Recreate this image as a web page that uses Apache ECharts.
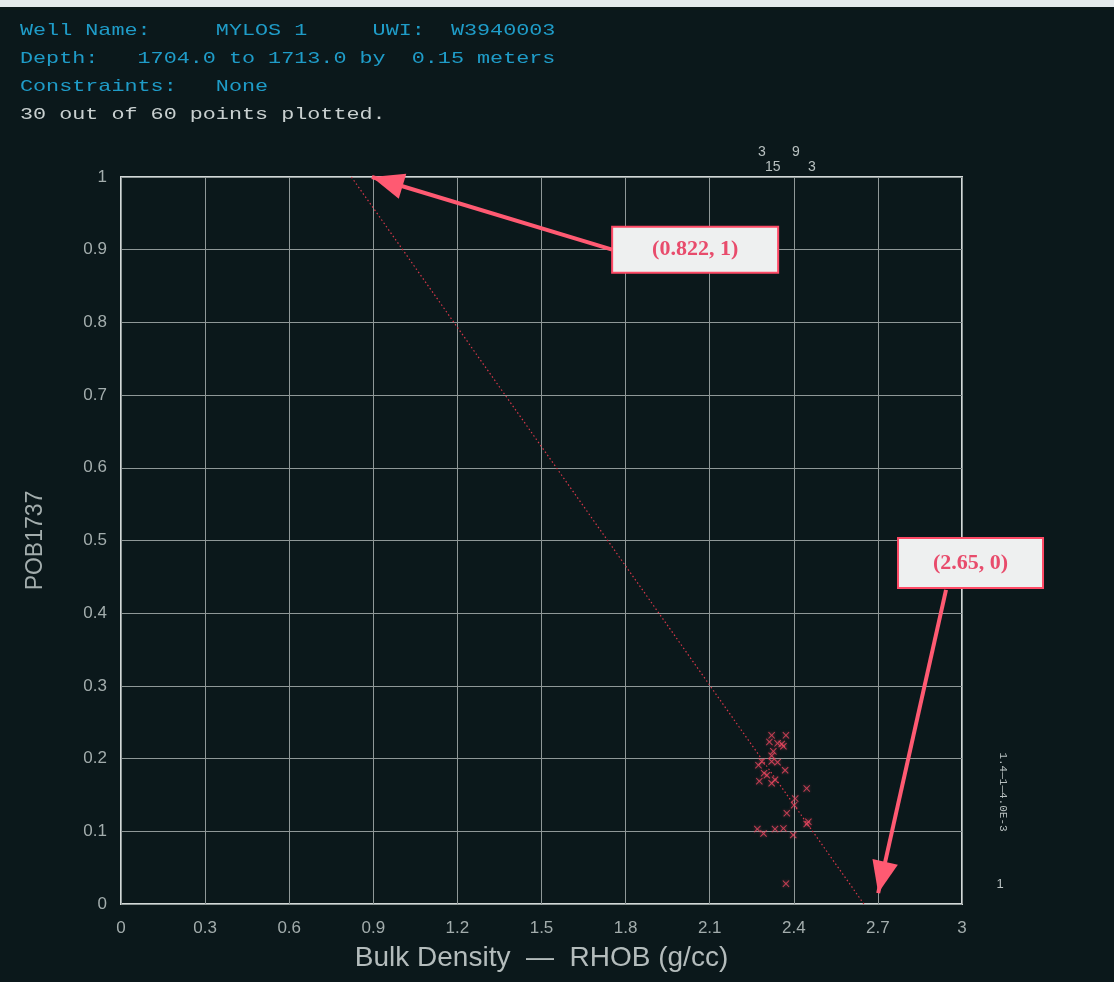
<!DOCTYPE html>
<html>
<head>
<meta charset="utf-8">
<title>Crossplot POB1737 vs RHOB</title>
<script src="https://cdn.jsdelivr.net/npm/echarts@6/dist/echarts.min.js"></script>
<style>
  html, body { margin: 0; padding: 0; background: #0b181b; }
  #chart { width: 1114px; height: 982px; }
</style>
</head>
<body>
<div id="chart"></div>
<script>
// Header block of the crossplot
const headerLines = [
  { text: 'Well Name:     MYLOS 1     UWI:  W3940003', color: '#1f9cc8' },
  { text: 'Depth:   1704.0 to 1713.0 by  0.15 meters', color: '#1f9cc8' },
  { text: 'Constraints:   None', color: '#1f9cc8' },
  { text: '30 out of 60 points plotted.', color: '#c9d0d0' }
];

// Axis ticks
const xTicks = { min: 0, max: 3, interval: 0.3 };
const yTicks = { min: 0, max: 1, interval: 0.1 };

// Bulk density (g/cc) and POB1737 of the plotted samples
const rhob = [2.321, 2.372, 2.313, 2.342, 2.357, 2.363, 2.327, 2.321, 2.286, 2.274,
              2.321, 2.342, 2.369, 2.294, 2.304, 2.277, 2.321, 2.333, 2.446, 2.405,
              2.401, 2.375, 2.452, 2.446, 2.270, 2.292, 2.333, 2.363, 2.398, 2.372];
const pob  = [0.232, 0.232, 0.223, 0.221, 0.220, 0.217, 0.210, 0.204, 0.196, 0.191,
              0.196, 0.195, 0.184, 0.180, 0.177, 0.169, 0.166, 0.171, 0.159, 0.145,
              0.136, 0.125, 0.113, 0.110, 0.103, 0.097, 0.103, 0.104, 0.095, 0.028];

// Porosity trend line: matrix density end-points
const trendX = [0.822, 2.65];
const trendY = [1, 0];

// Callouts: label text, arrow tail and arrow tip in data units
const calloutLabels = ['(0.822, 1)', '(2.65, 0)'];
const calloutTails  = [[1.752, 0.900], [2.943, 0.432]];
const calloutTips   = [[0.895, 1.0], [2.701, 0.015]];

// Column counts shown above the plot frame
const topCounts = [
  { t: '3', x: 758, y: 152 }, { t: '9', x: 792, y: 152 },
  { t: '15', x: 765, y: 167 }, { t: '3', x: 808, y: 167 }
];

const chart = echarts.init(document.getElementById('chart'));

const crossSymbol = 'path://M0,1L1,0L5,4L9,0L10,1L6,5L10,9L9,10L5,6L1,10L0,9L4,5Z';
const headSymbol = 'path://M5,0L10,13L0,13Z';
const headSize = [26, 32];

const scatterData = rhob.map((v, i) => [v, pob[i]]);
const trendData = trendX.map((v, i) => [v, trendY[i]]);

const labelFont = { color: '#a3adad', fontSize: 17, fontFamily: 'Liberation Sans' };

chart.setOption({
  backgroundColor: '#0b181b',
  animation: false,
  grid: {
    left: 121, right: 152, top: 177, bottom: 78,
    show: true, borderColor: '#d3d8d8', borderWidth: 2,
    backgroundColor: 'transparent'
  },
  xAxis: {
    type: 'value',
    min: xTicks.min, max: xTicks.max, interval: xTicks.interval,
    name: 'Bulk Density  —  RHOB (g/cc)',
    nameLocation: 'middle', nameGap: 40,
    nameTextStyle: { color: '#b4bcbc', fontSize: 28, fontFamily: 'Liberation Sans' },
    axisLine: { show: false },
    axisTick: { show: false },
    axisLabel: Object.assign({ margin: 16 }, labelFont),
    splitLine: { show: true, lineStyle: { color: '#8f9898', width: 1 } }
  },
  yAxis: {
    type: 'value',
    min: yTicks.min, max: yTicks.max, interval: yTicks.interval,
    name: 'POB1737',
    nameLocation: 'middle', nameGap: 74, nameRotate: 90,
    nameTextStyle: { color: '#a3adad', fontSize: 23, fontFamily: 'Liberation Sans' },
    axisLine: { show: false },
    axisTick: { show: false },
    axisLabel: Object.assign({ margin: 14 }, labelFont),
    splitLine: { show: true, lineStyle: { color: '#8f9898', width: 1 } }
  },
  series: [
    {
      type: 'line',
      data: trendData,
      symbol: 'none',
      silent: true,
      clip: false,
      lineStyle: { color: '#d8384a', width: 1.2, type: [1.5, 2.5] },
      markLine: {
        silent: true,
        symbol: ['none', headSymbol],
        symbolSize: headSize,
        // shift the head so its point sits on the end coordinate
        symbolOffset: [[0, 0], [0, headSize[1] / 2]],
        label: { show: false },
        itemStyle: { color: '#ff5a72' },
        lineStyle: { color: '#ff5a72', width: 4, type: 'solid' },
        data: calloutTails.map((t, i) => [{ coord: t }, { coord: calloutTips[i] }])
      },
      z: 2
    },
    {
      type: 'scatter',
      data: scatterData,
      symbol: crossSymbol,
      symbolSize: 7,
      itemStyle: { color: '#ee4660', shadowColor: 'rgba(255,90,110,0.6)', shadowBlur: 3 },
      z: 3
    }
  ]
});

// Pixel layout of the annotations derived from the axes
function px(pt) { return chart.convertToPixel({ gridIndex: 0 }, pt); }

const graphics = [];

// light strip along the top edge
graphics.push({ type: 'rect', left: 0, top: 0, shape: { width: 1114, height: 7 }, style: { fill: '#e4eaec' }, z: 10 });

// header lines (wide terminal-style monospace)
headerLines.forEach((l, i) => {
  graphics.push({
    type: 'text', x: 20, y: 30 + i * 28, scaleX: 1.28, z: 10,
    style: { text: l.text, fill: l.color, font: '17px "Liberation Mono"', textVerticalAlign: 'middle' }
  });
});

// column counts above the frame
topCounts.forEach(c => {
  graphics.push({
    type: 'text', x: c.x, y: c.y, z: 10,
    style: { text: c.t, fill: '#b8c0c0', font: '14px "Liberation Sans"', textAlign: 'left', textVerticalAlign: 'middle' }
  });
});

// vertical scale note at the right edge
graphics.push({
  type: 'text', x: 1003, y: 792, rotation: -Math.PI / 2, z: 10,
  style: { text: '1.4—1—4.0E-3', fill: '#b8c0c0', font: '11px "Liberation Mono"', textAlign: 'center', textVerticalAlign: 'middle' }
});
graphics.push({
  type: 'text', x: 1000, y: 884, z: 10,
  style: { text: '1', fill: '#b8c0c0', font: '13px "Liberation Sans"', textAlign: 'center', textVerticalAlign: 'middle' }
});

// callout boxes attached to the arrow tails
const boxSpecs = [
  { w: 166, h: 46, dx: 0, dy: -23 },
  { w: 145, h: 50, dx: -48, dy: -52 }
];
calloutLabels.forEach((txt, i) => {
  const p = px(calloutTails[i]);
  const b = boxSpecs[i];
  graphics.push({
    type: 'group', x: p[0] + b.dx, y: p[1] + b.dy, z: 20,
    children: [
      { type: 'rect', shape: { x: 0, y: 0, width: b.w, height: b.h },
        style: { fill: '#eef0f0', stroke: '#ff4a66', lineWidth: 2 } },
      { type: 'text', x: b.w / 2, y: b.h / 2,
        style: { text: txt, fill: '#e84c6c', font: 'bold 22px "Liberation Serif"', textAlign: 'center', textVerticalAlign: 'middle' } }
    ]
  });
});

chart.setOption({ graphic: graphics });
</script>
</body>
</html>
